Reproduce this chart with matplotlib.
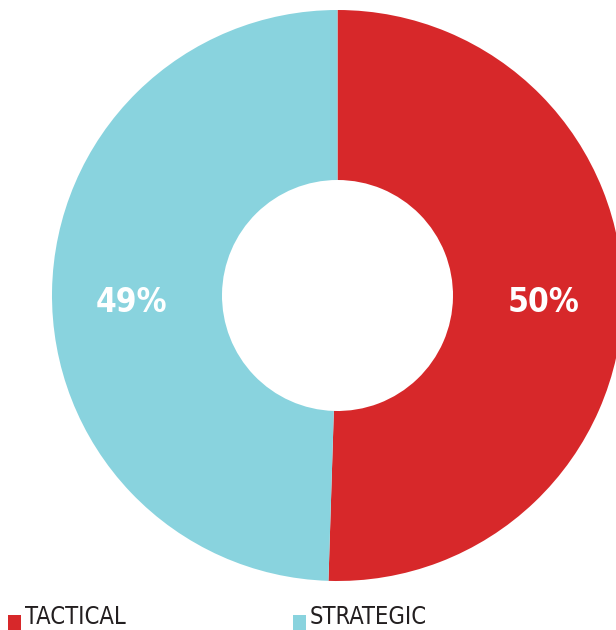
import matplotlib
matplotlib.use("Agg")
import matplotlib.pyplot as plt
from matplotlib.patches import Rectangle
from matplotlib import font_manager as fm

categories = ["TACTICAL", "STRATEGIC"]
values = [50, 49]
colors = ["#d7282a", "#89d3de"]

W, H = 616, 630


def _stretch(f):
    s = f.stretch
    if isinstance(s, (int, float)):
        return s
    return fm.stretch_dict.get(str(s).lower(), 500)


def _weight(f):
    w = f.weight
    if isinstance(w, (int, float)):
        return w
    return fm.weight_dict.get(str(w).lower(), 400)


def narrow_font(weight="normal"):
    """Pick the most condensed sans face installed, else DejaVu Sans."""
    cands = []
    for f in fm.fontManager.ttflist:
        name = f.name.lower()
        narrow = ("narrow" in name or "condensed" in name or _stretch(f) < 500)
        if narrow and "mono" not in name and "serif" not in name.replace("sans", ""):
            cands.append(f)
    if cands:
        target = 700 if weight == "bold" else 400
        def score(f):
            return (f.style != "normal", abs(_weight(f) - target) > 100,
                    _stretch(f), abs(_weight(f) - target))
        best = sorted(cands, key=score)[0]
        return fm.FontProperties(fname=best.fname)
    return fm.FontProperties(family="DejaVu Sans", weight=weight)


fp_bold = narrow_font("bold")
fp_reg = narrow_font("normal")

fig = plt.figure(figsize=(W / 100, H / 100), dpi=100)
ax = fig.add_axes([0, 0, 1, 1])

total = sum(values)
cx, cy = 337.5, H - 295.5
r_out, r_in = 285.5, 115.5

wedges, texts, autotexts = ax.pie(
    values,
    colors=colors,
    startangle=90,
    counterclock=False,
    center=(cx, cy),
    radius=r_out,
    wedgeprops=dict(width=r_out - r_in, linewidth=0),
    autopct=lambda p: f"{p * total / 100:.0f}%",
    pctdistance=(r_in + r_out) / 2 / r_out + 0.02,
    textprops=dict(color="white"),
)
for at in autotexts:
    at.set_fontproperties(fp_bold)
    at.set_fontsize(24)
    at.set_y(cy - 7.5)

ax.set_xlim(0, W)
ax.set_ylim(0, H)
ax.set_aspect("equal")
ax.axis("off")

# legend row along the bottom edge
legend_x = [8, 293]
for x0, cat, col in zip(legend_x, categories, colors):
    ax.add_patch(Rectangle((x0, 0), 13, 15, color=col, linewidth=0, clip_on=False))
    t = ax.text(x0 + 17, 0.5, cat, color="#231f20", ha="left", va="bottom")
    t.set_fontproperties(fp_reg)
    t.set_fontsize(17)

fig.savefig("out.png", dpi=100)
